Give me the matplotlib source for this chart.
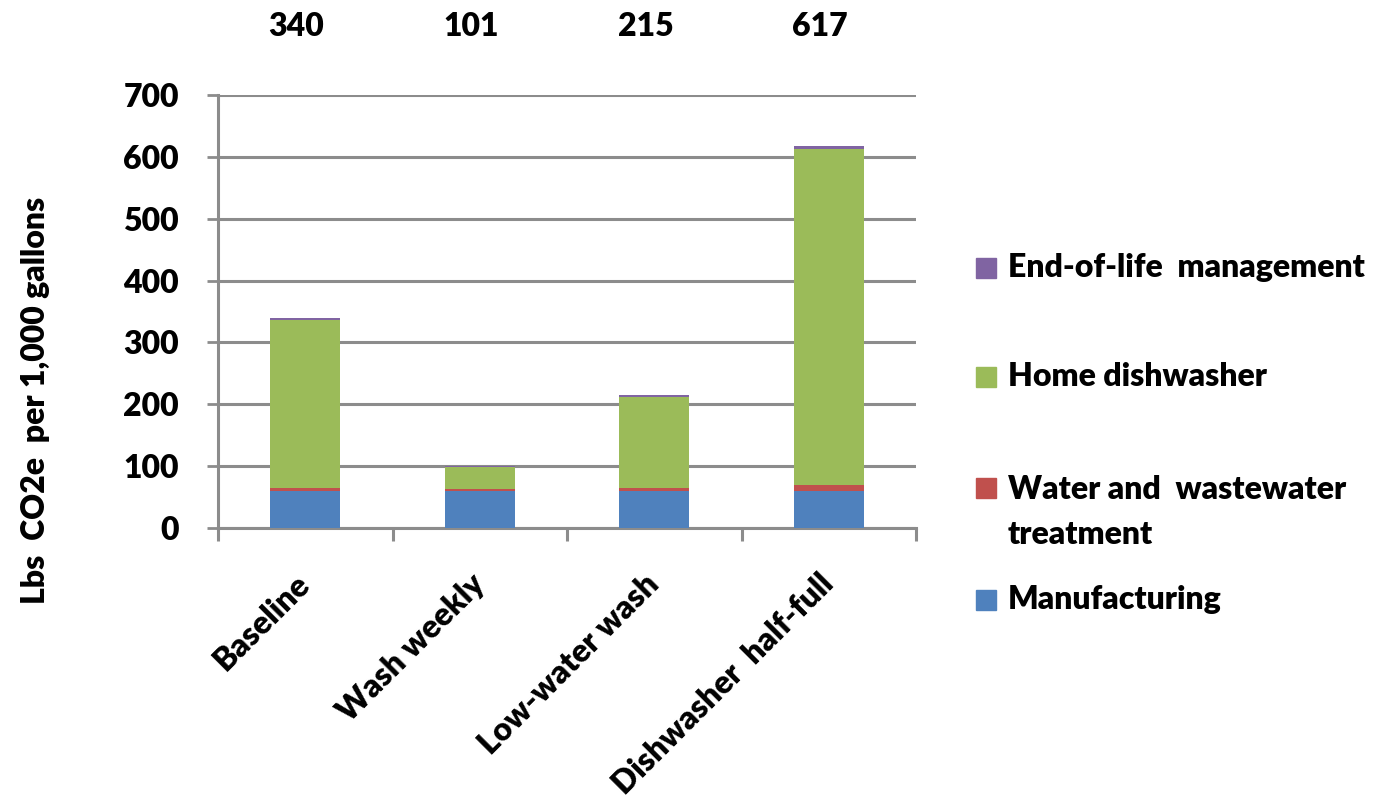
import matplotlib
matplotlib.use("Agg")
import matplotlib.pyplot as plt
import matplotlib.transforms as mtransforms
from matplotlib.patches import Rectangle
import numpy as np

plt.rcParams['font.family'] = ['Lato', 'DejaVu Sans']

categories = ["Baseline", "Wash weekly", "Low-water wash", "Dishwasher  half-full"]
manufacturing = [60, 60, 60, 60]
water_treatment = [4, 3, 4, 9]
home_dishwasher = [273, 35, 148, 544]
end_of_life = [3, 3, 3, 4]
totals = [340, 101, 215, 617]

series_names = ["Manufacturing", "Water and  wastewater\ntreatment",
                "Home dishwasher", "End-of-life  management"]
series_colors = ["#4F81BD", "#C0504D", "#9BBB59", "#8064A2"]
y_ticks = [0, 100, 200, 300, 400, 500, 600, 700]

grid_color = "#8C8C8C"
fs = 23
fw = 'heavy'

fig = plt.figure(figsize=(13.9, 7.98), dpi=100)
ax = fig.add_axes([218 / 1390, 1 - 528 / 798, (916 - 218) / 1390, (528 - 95) / 798])

x = np.arange(len(categories))
bottom = np.zeros(len(categories))
for vals, color in zip([manufacturing, water_treatment, home_dishwasher, end_of_life], series_colors):
    ax.bar(x, vals, width=0.4, bottom=bottom, color=color, zorder=3)
    bottom += np.array(vals)

ax.set_xlim(-0.5, len(categories) - 0.5)
ax.set_ylim(0, 700)
ax.set_yticks(y_ticks)
ax.set_yticklabels([str(v) for v in y_ticks], fontsize=fs, fontweight=fw)
ax.yaxis.grid(True, color=grid_color, linewidth=2.2, zorder=0)
ax.tick_params(axis='y', length=8, width=2, color=grid_color, pad=20)

ax.set_xticks(x)
ax.set_xticklabels([])
ax.set_xticks(np.arange(-0.5, len(categories)), minor=True)
ax.tick_params(axis='x', which='major', length=0)
ax.tick_params(axis='x', which='minor', length=9, width=2.2, color=grid_color)

for side in ['top', 'right']:
    ax.spines[side].set_visible(False)
for side in ['left', 'bottom']:
    ax.spines[side].set_color(grid_color)
    ax.spines[side].set_linewidth(2.2)

# rotated category labels
offset = mtransforms.ScaledTranslation(0.0, -0.51, fig.dpi_scale_trans)
for xi, name in zip(x, categories):
    ax.text(xi, 0, name, rotation=45, ha='right', va='center',
            rotation_mode='anchor', fontsize=fs, fontweight=fw,
            transform=ax.transData + offset)

# totals above the plot
trans = mtransforms.blended_transform_factory(ax.transData, ax.transAxes)
for xi, t in zip(x, totals):
    ax.text(xi - 0.05, 1.158, str(t), ha='center', va='center',
            fontsize=fs, fontweight=fw, transform=trans)

fig.text(35 / 1390, 1 - 400 / 798, "Lbs  CO2e  per 1,000 gallons", rotation=90,
         ha='center', va='center', fontsize=fs, fontweight=fw)

# legend, top entry first
legend_rows = [(3, 268), (2, 377), (1, 488), (0, 600)]
for idx, ypix in legend_rows:
    fig.patches.append(Rectangle((976 / 1390, 1 - (ypix + 10) / 798), 20 / 1390, 20 / 798,
                                 transform=fig.transFigure, color=series_colors[idx]))
    multi = '\n' in series_names[idx]
    fig.text(1008 / 1390, 1 - (ypix - 13) / 798 if multi else 1 - ypix / 798,
             series_names[idx], ha='left', va='top' if multi else 'center',
             fontsize=fs, fontweight=fw, linespacing=1.68)

fig.savefig("out.png", dpi=100)
